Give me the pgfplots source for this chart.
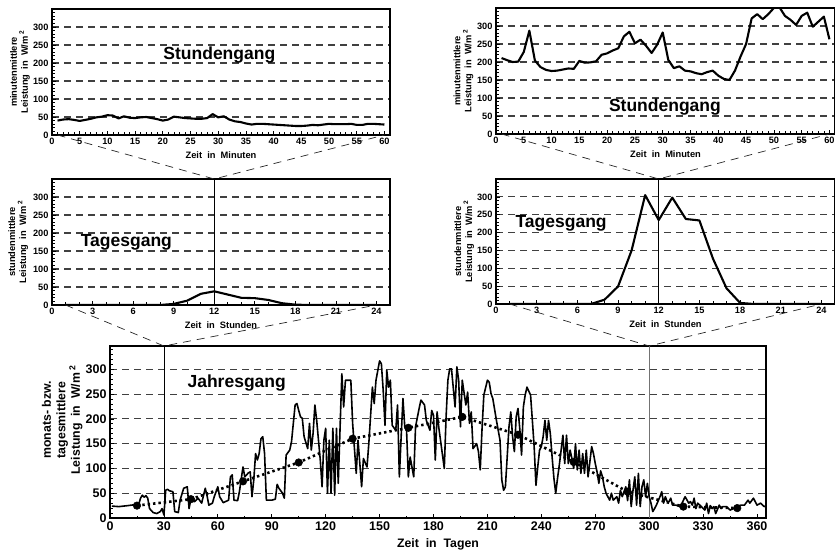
\documentclass[border=0pt]{standalone}
\usepackage{fontspec}
\setmainfont{Liberation Sans}
\usepackage{pgfplots}
\pgfplotsset{compat=1.18}
\tikzset{
  conn/.style={black!85, line width=0.7pt, dash pattern=on 8pt off 6pt},
  ttl/.style={font=\fontsize{17.5}{20}\selectfont\bfseries},
  dataline/.style={black, line width=2.1pt, line join=round},
}
\pgfplotsset{
  panel/.style={
    scale only axis,
    axis line style={line width=1.5pt},
    ymin=0, ymax=350,
    ytick={0,50,...,300},
    minor ytick={0,10,...,350},
    ymajorgrids,
    major grid style={dash pattern=on 7pt off 5pt, line width=1.1pt, black!75},
    tick align=inside,
    xtick pos=bottom, ytick pos=left,
    major tick length=4pt, minor tick length=2.5pt,
    tick style={black, line width=0.7pt},
    /pgf/number format/assume math mode=true,
    tick label style={font=\fontsize{9.2}{9.2}\selectfont\bfseries},
    label style={font=\fontsize{9.3}{11}\selectfont\bfseries},
    ylabel style={anchor=center, align=center},
    xlabel style={at={(axis description cs:0.5,-0.16)}, anchor=center},
    clip=true,
  },
  minutes/.style={xmin=0, xmax=61, xtick={0,5,...,60}, minor xtick={0,1,...,61}},
  hours/.style={xmin=0, xmax=25, xtick={0,3,...,24}, minor xtick={0,1,...,25}},
}
\begin{document}
\begin{tikzpicture}
\useasboundingbox (0pt,0pt) rectangle (835pt,-551pt);

% ---------- top left: Stundengang ----------
\begin{axis}[panel, minutes, at={(52pt,-9pt)}, anchor=north west,
  width=338pt, height=126pt,
  xlabel={Zeit~ in~ Minuten},
  ylabel={minutenmittlere\\Leistung~ in~ W/m\,\textsuperscript{2}},
  ylabel style={at={(axis description cs:-0.095,0.5)}}]
\addplot[dataline, no marks] coordinates {
(1,40)(2,43)(3,44)(4,42)(5,39)(6,42)(7,45)(8,49)(9,51)(10,55)(11,54)(12,46)(13,52)(14,48)(15,47)
(16,49)(17,50)(18,47)(19,44)(20,40)(21,43)(22,51)(23,49)(24,47)(25,46)(26,45)(27,45)(28,47)(29,58)(30,49)
(31,52)(32,43)(33,38)(34,36)(35,32)(36,29)(37,31)(38,31)(39,30)(40,29)(41,28)(42,27)(43,26)(44,25)(45,25)
(46,26)(47,28)(48,27)(49,29)(50,31)(51,30)(52,30)(53,30)(54,31)(55,28)(56,28)(57,31)(58,31)(59,30)(60,29)};
\node[ttl] at (axis cs:30.2,222) {Stundengang};
\coordinate (A1) at (axis cs:1,0);
\coordinate (A2) at (axis cs:60,0);
\end{axis}

% ---------- top right: Stundengang ----------
\begin{axis}[panel, minutes, at={(496pt,-8pt)}, anchor=north west,
  width=339pt, height=126pt,
  xlabel={Zeit~ in~ Minuten},
  ylabel={minutenmittlere\\Leistung~ in~ W/m\,\textsuperscript{2}},
  ylabel style={at={(axis description cs:-0.096,0.5)}}]
\addplot[dataline, no marks] coordinates {
(1,211)(2,205)(3,200)(4,201)(5,228)(6,287)(7,204)(8,186)(9,178)(10,175)(11,176)(12,179)(13,182)(14,181)(15,203)
(16,198)(17,199)(18,202)(19,220)(20,224)(21,232)(22,238)(23,271)(24,284)(25,252)(26,262)(27,245)(28,225)(29,248)(30,282)
(31,206)(32,183)(33,188)(34,176)(35,174)(36,169)(37,166)(38,172)(39,176)(40,162)(41,153)(42,150)(43,176)(44,215)(45,250)
(46,321)(47,333)(48,319)(49,333)(50,350)(51,352)(52,328)(53,317)(54,303)(55,328)(56,337)(57,298)(58,312)(59,326)(60,263)};
\node[ttl] at (axis cs:30.4,75) {Stundengang};
\coordinate (B1) at (axis cs:1,0);
\coordinate (B2) at (axis cs:60,0);
\end{axis}

% ---------- middle left: Tagesgang ----------
\begin{axis}[panel, hours, at={(52pt,-179pt)}, anchor=north west,
  width=338pt, height=126pt,
  xlabel={Zeit~ in~ Stunden},
  ylabel={stundenmittlere\\Leistung~ in~ W/m\,\textsuperscript{2}},
  ylabel style={at={(axis description cs:-0.1,0.5)}}]
\draw[black, line width=0.8pt] (axis cs:12,0) -- (axis cs:12,350);
\addplot[dataline, no marks] coordinates {
(1,0)(2,0)(3,0)(4,0)(5,0)(6,0)(7,0)(8,0)(9,3)(10,12)(11,31)(12,38)
(13,29)(14,20)(15,19)(16,14)(17,5)(18,1)(19,0)(20,0)(21,0)(22,0)(23,0)(24,0)};
\node[ttl] at (axis cs:5.5,175) {Tagesgang};
\coordinate (C1) at (axis cs:1,0);
\coordinate (C2) at (axis cs:24,0);
\coordinate (CT) at (axis cs:12,350);
\end{axis}

% ---------- middle right: Tagesgang ----------
\begin{axis}[panel, hours, at={(496pt,-179pt)}, anchor=north west,
  width=339pt, height=125pt,
  xlabel={Zeit~ in~ Stunden},
  ylabel={stundenmittlere\\Leistung~ in~ W/m\,\textsuperscript{2}},
  ylabel style={at={(axis description cs:-0.094,0.5)}}]
\draw[black, line width=0.8pt] (axis cs:12,0) -- (axis cs:12,350);
\addplot[dataline, no marks] coordinates {
(1,0)(2,0)(3,0)(4,0)(5,0)(6,0)(7,0)(8,12)(9,49)(10,150)(11,305)(12,235)
(13,298)(14,238)(15,234)(16,127)(17,44)(18,3)(19,0)(20,0)(21,0)(22,0)(23,0)(24,0)};
\node[ttl] at (axis cs:4.8,225) {Tagesgang};
\coordinate (D1) at (axis cs:1,0);
\coordinate (D2) at (axis cs:24,0);
\coordinate (DT) at (axis cs:12,350);
\end{axis}

% ---------- bottom: Jahresgang ----------
\begin{axis}[panel, at={(110pt,-346pt)}, anchor=north west,
  width=656pt, height=172pt,
  ymax=347,
  xmin=0, xmax=365, xtick={0,30,...,360}, minor xtick={15,45,...,345},
  tick label style={font=\fontsize{12.5}{12.5}\selectfont\bfseries},
  label style={font=\fontsize{12.3}{14.5}\selectfont\bfseries},
  xlabel={Zeit~ in~ Tagen},
  xlabel style={at={(axis description cs:0.5,-0.155)}},
  ylabel={monats- bzw.\\tagesmittlere\\Leistung~ in~ W/m\,\textsuperscript{2}},
  ylabel style={at={(axis description cs:-0.073,0.57)}}]
\draw[black, line width=0.8pt] (axis cs:30,0) -- (axis cs:30,347);
\draw[black!55, line width=1pt] (axis cs:300,0) -- (axis cs:300,347);
\addplot[black, line width=1.6pt, no marks, line join=round] coordinates {
(1,24)(5,23)(10,25)(14,27)(16,28)(17,40)(18,46)(19,42)(20,45)(21,40)(22,19)(24,11)(26,9)(28,13)(29,19)(30,6)
(31,56)(32,58)(33,55)(35,53)(36,13)(38,11)(39,36)(41,60)(43,63)(44,19)(45,38)(46,43)(47,33)(49,40)(51,30)
(53,60)(54,45)(55,26)(57,30)(58,43)(60,63)(61,43)(63,31)(66,36)(67,83)(68,87)(69,36)(71,35)(72,53)(74,103)
(75,83)(77,91)(78,93)(79,43)(80,77)(81,130)(82,117)(83,130)(84,160)(85,164)(86,130)(87,36)(90,36)(92,38)
(93,68)(94,60)(96,50)(97,40)(98,127)(100,137)(101,154)(103,228)(104,231)(105,217)(106,204)(107,201)(108,164)
(110,140)(111,191)(112,137)(113,171)(114,228)(115,197)(117,117)(118,63)(119,157)(120,181)(121,50)(122,157)
(123,50)(124,181)(125,46)(126,181)(127,70)(129,291)(130,224)(131,278)(134,278)(135,191)(137,90)(138,157)
(140,63)(141,120)(143,103)(144,150)(146,264)(147,231)(148,278)(150,317)(151,311)(152,258)(153,187)(154,298)
(155,264)(156,278)(157,187)(159,177)(160,228)(161,83)(162,164)(163,241)(164,184)(165,177)(166,83)(167,123)
(169,83)(170,184)(172,221)(173,238)(175,228)(176,197)(178,177)(179,217)(180,207)(181,117)(182,214)(183,181)
(186,100)(187,204)(188,278)(189,301)(190,301)(192,224)(193,305)(194,278)(195,184)(196,278)(198,228)(199,254)
(200,191)(201,214)(202,140)(204,150)(205,134)(206,97)(207,180)(208,248)(210,278)(211,274)(212,251)(213,241)
(215,197)(217,157)(218,77)(219,56)(220,63)(222,184)(223,214)(224,164)(225,134)(226,204)(227,221)(228,180)
(229,127)(230,224)(231,248)(232,264)(234,248)(235,197)(236,144)(237,66)(238,103)(239,137)(240,144)(241,164)
(242,197)(243,157)(244,197)(245,170)(246,123)(247,80)(248,50)(249,80)(250,107)(251,137)(252,167)(253,110)
(254,167)(255,110)(256,137)(257,120)(258,100)(259,150)(260,97)(261,137)(262,90)(263,130)(264,90)(265,137)
(266,83)(268,144)(269,130)(270,110)(271,93)(272,70)(273,95)(274,83)(275,63)(276,50)(278,36)(279,50)(280,36)
(282,43)(283,30)(284,56)(285,43)(287,63)(288,35)(289,77)(290,23)(291,56)(292,83)(293,26)(294,90)(295,23)
(296,63)(297,77)(298,43)(299,70)(300,43)(301,30)(302,13)(303,19)(304,26)(306,43)(307,53)(308,30)(309,43)
(310,33)(311,33)(312,40)(313,26)(315,26)(317,23)(318,28)(320,43)(322,30)(323,33)(324,26)(325,40)(326,19)
(327,30)(329,23)(331,16)(332,30)(333,9)(334,25)(335,19)(336,23)(337,9)(339,26)(340,19)(341,23)(343,23)
(345,16)(347,19)(349,23)(351,26)(353,26)(355,36)(356,30)(358,40)(360,26)(362,30)(364,23)(365,25)};
\addplot[black, line width=2.6pt, dash pattern=on 2.4pt off 3pt, mark=*, mark size=3.8pt,
  mark options={solid, fill=black, line width=0.5pt}] coordinates {
(15,25)(45,38)(74,74)(105,112)(135,160)(166,182)(196,204)(227,168)(258,113)(288,53)(319,23)(349,20)};
\node[ttl] at (axis cs:70.5,272) {Jahresgang};
\coordinate (E1) at (axis cs:30,347);
\coordinate (E2) at (axis cs:300,347);
\end{axis}

% ---------- connecting dashed lines ----------
\draw[conn] (A1) -- (CT) -- (A2);
\draw[conn] (B1) -- (DT) -- (B2);
\draw[conn] (C1) -- (E1) -- (C2);
\draw[conn] (D1) -- (E2) -- (D2);
\end{tikzpicture}
\end{document}
